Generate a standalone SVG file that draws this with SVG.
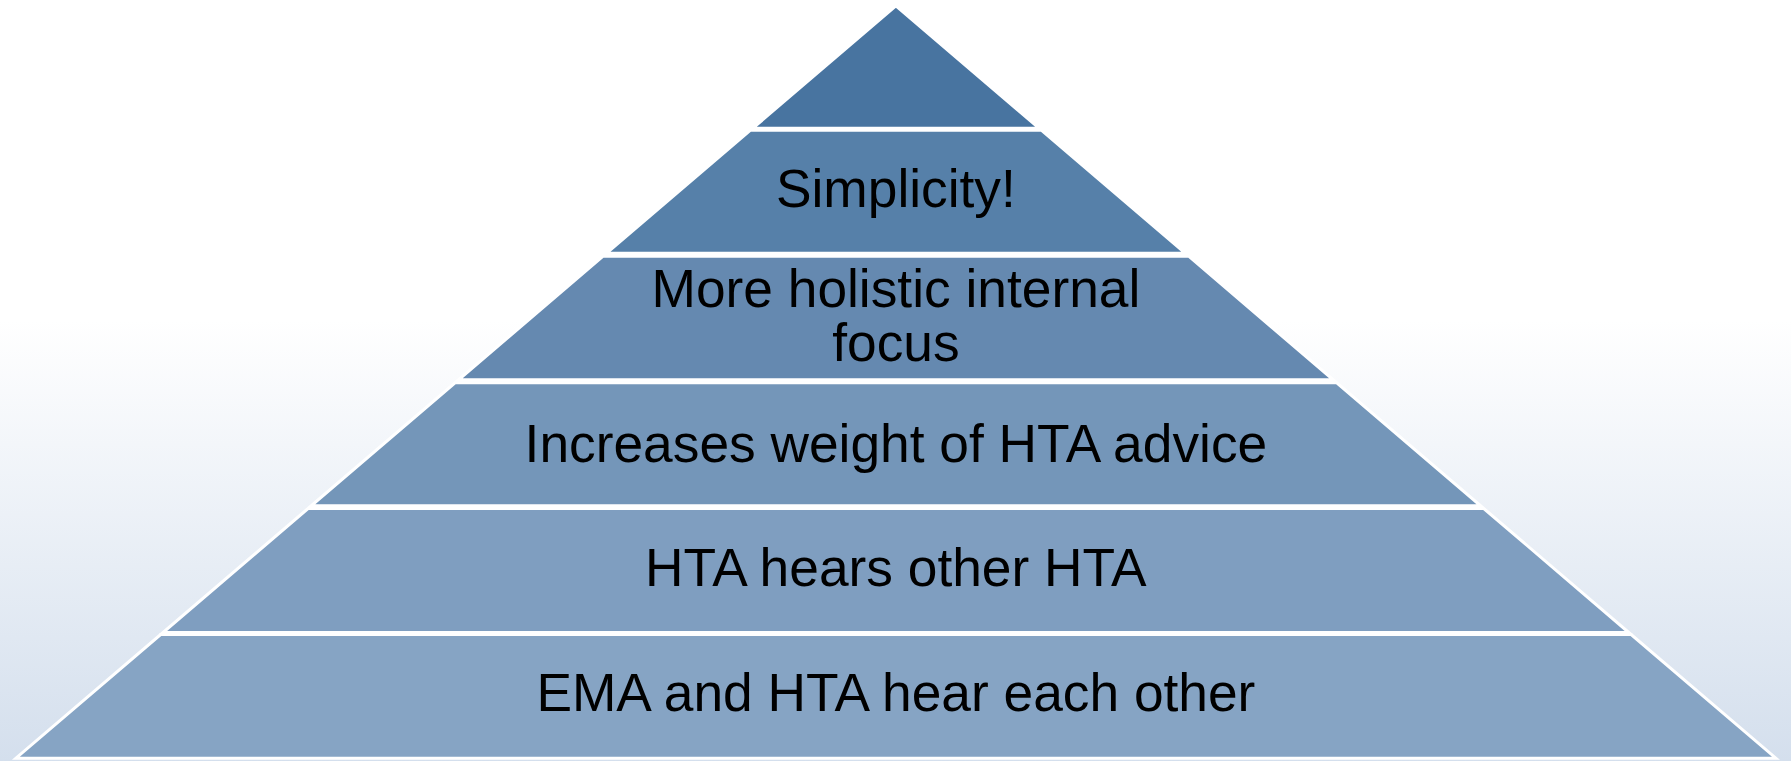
<svg xmlns="http://www.w3.org/2000/svg" width="1791" height="761" viewBox="0 0 1791 761">
  <defs>
    <linearGradient id="bg" gradientUnits="userSpaceOnUse" x1="0" y1="320" x2="0" y2="761">
      <stop offset="0" stop-color="#ffffff"/>
      <stop offset="1" stop-color="#d4dfed"/>
    </linearGradient>
  </defs>
  <style>
    .tier { stroke: #ffffff; stroke-width: 3; stroke-linejoin: miter; }
    .label { font-family: "Liberation Sans", Arial, sans-serif; font-size: 53.3px; fill: #000000; text-anchor: middle; }
  </style>

  <!-- page background -->
  <rect x="0" y="0" width="1791" height="761" fill="url(#bg)"/>

  <!-- pyramid tiers, top to bottom -->
  <g id="tier-1">
    <polygon class="tier" fill="#4874a0" points="895.9,5.9 1038.95,128.2 752.85,128.2"/>
  </g>

  <g id="tier-2">
    <polygon class="tier" fill="#5680a9" points="750.51,130.2 1041.29,130.2 1185.17,253.2 606.63,253.2"/>
    <text class="label" x="895.9" y="206.7">Simplicity!</text>
  </g>

  <g id="tier-3">
    <polygon class="tier" fill="#6589b0" points="603.12,256.2 1188.68,256.2 1333.25,379.8 458.55,379.8"/>
    <text class="label" x="895.9" y="306.7">More holistic internal</text>
    <text class="label" x="895.9" y="361">focus</text>
  </g>

  <g id="tier-4">
    <polygon class="tier" fill="#7496b9" points="455.04,382.8 1336.76,382.8 1480.63,505.8 311.17,505.8"/>
    <text class="label" x="895.9" y="461.7">Increases weight of HTA advice</text>
  </g>

  <g id="tier-5">
    <polygon class="tier" fill="#7f9ec0" points="308.01,508.5 1483.79,508.5 1628.83,632.5 162.97,632.5"/>
    <text class="label" x="895.9" y="585.7">HTA hears other HTA</text>
  </g>

  <g id="tier-6">
    <polygon class="tier" fill="#86a4c4" points="160.63,634.5 1631.17,634.5 1775.87,758.2 15.93,758.2"/>
    <text class="label" x="895.9" y="710.7">EMA and HTA hear each other</text>
  </g>
</svg>
